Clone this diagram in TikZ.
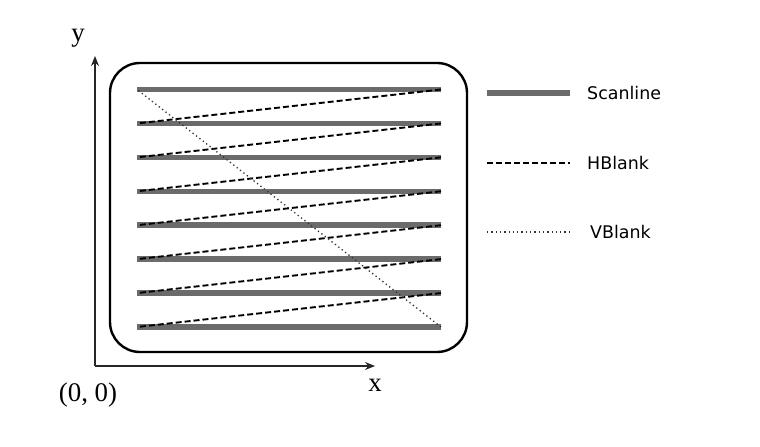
\documentclass[tikz,border=0pt]{standalone}
\usepackage{fontspec}
\newfontfamily\legendfont{DejaVu Sans}
\newfontfamily\axfont{Liberation Serif}
\usetikzlibrary{arrows.meta}
\begin{document}
\begin{tikzpicture}[x=1bp,y=-1bp,
  scan/.style={line width=5.5bp, draw=black!58},
  hblank/.style={line width=1.9bp, draw=black, dash pattern=on 6bp off 3bp},
  vblank/.style={line width=1.3bp, draw=black!80, dash pattern=on 1.3bp off 3bp},
  axis/.style={line width=1.4bp, draw=black!85, -{Stealth[length=10bp,width=8bp]}},
  frame/.style={line width=2.4bp, draw=black, rounded corners=30bp},
  axlabel/.style={font=\axfont\fontsize{27}{29}\selectfont, inner sep=0pt},
  leglabel/.style={font=\legendfont\fontsize{17.5}{20}\selectfont, anchor=west, inner sep=0pt}
]
\useasboundingbox (0,0) rectangle (760,447);
% frame
\draw[frame] (110,63) rectangle (467,352);
% scanline endpoints
\foreach \i in {1,...,8} {
  \pgfmathsetmacro{\yy}{89.5+(\i-1)*33.93}
  \coordinate (L\i) at (137,\yy);
  \coordinate (R\i) at (441,\yy);
}
\foreach \i in {1,...,8} { \draw[scan] (L\i) -- (R\i); }
\foreach \i/\j in {1/2,2/3,3/4,4/5,5/6,6/7,7/8} { \draw[hblank] (R\i) -- (L\j); }
\draw[vblank] (R8) -- (L1);
% axes
\coordinate (O) at (95,366);
\coordinate (Ytip) at (95,56);
\coordinate (Xtip) at (375,366);
\draw[axis] (O) -- (Ytip);
\draw[axis] (O) -- (Xtip);
\node[axlabel] (ylab) at (78,38) {y};
\node[axlabel] (xlab) at (375,385) {x};
\node[axlabel] (olab) at (88,395) {(0, 0)};
% legend
\coordinate (s1) at (487,93); \coordinate (s2) at (570,93);
\coordinate (h1) at (487,163); \coordinate (h2) at (570,163);
\coordinate (v1) at (487,232); \coordinate (v2) at (570,232);
\draw[scan] (s1) -- (s2);
\draw[hblank] (h1) -- (h2);
\draw[vblank] (v1) -- (v2);
\node[leglabel] (sl) at (587,93) {Scanline};
\node[leglabel] (hl) at (587,163) {HBlank};
\node[leglabel] (vl) at (590,232) {VBlank};
\end{tikzpicture}
\end{document}
